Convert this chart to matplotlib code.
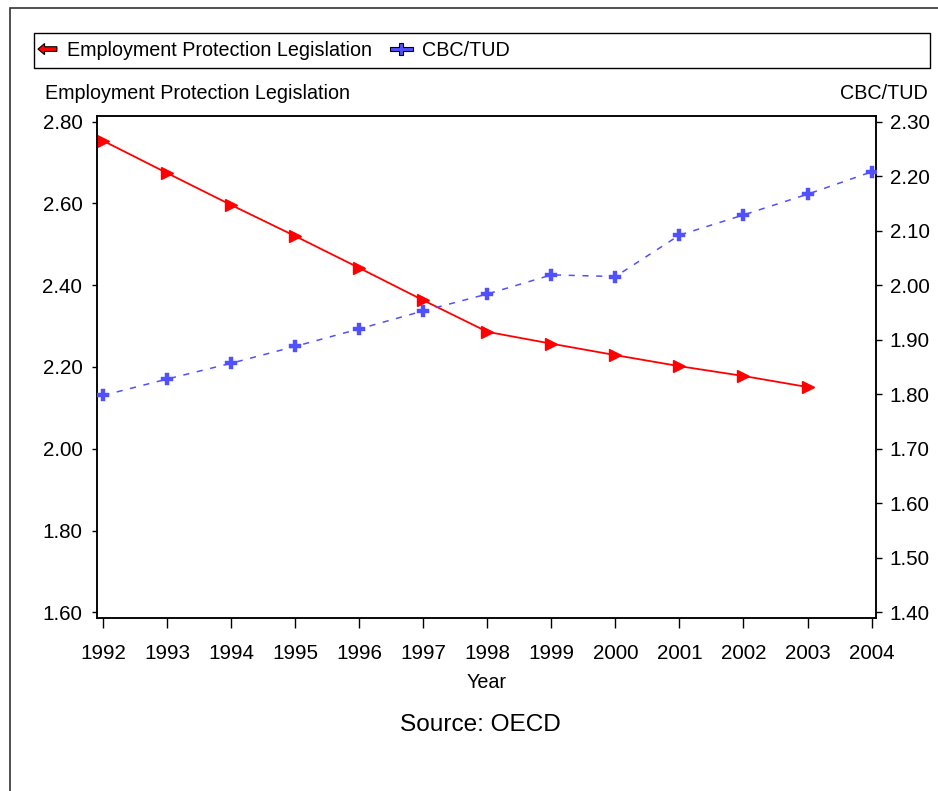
import matplotlib
matplotlib.use('Agg')
import matplotlib.pyplot as plt
from matplotlib import font_manager
from matplotlib.legend_handler import HandlerBase
from matplotlib.patches import Polygon, Rectangle

# ---- data ----
years = [1992, 1993, 1994, 1995, 1996, 1997, 1998, 1999, 2000, 2001, 2002, 2003, 2004]
epl_years = [1992, 1993, 1994, 1995, 1996, 1997, 1998, 1999, 2000, 2001, 2002, 2003]
epl = [2.753, 2.674, 2.596, 2.520, 2.442, 2.363, 2.286, 2.257, 2.229, 2.202, 2.178, 2.151]
cbc = [1.798, 1.828, 1.857, 1.888, 1.920, 1.953, 1.984, 2.019, 2.016, 2.092, 2.129, 2.167, 2.208]
left_ticks = [1.60, 1.80, 2.00, 2.20, 2.40, 2.60, 2.80]
right_ticks = [1.40, 1.50, 1.60, 1.70, 1.80, 1.90, 2.00, 2.10, 2.20, 2.30]
epl_name = "Employment Protection Legislation"
cbc_name = "CBC/TUD"

# ---- fonts ----
try:
    font_manager.findfont(font_manager.FontProperties(family='Liberation Sans Narrow'),
                          fallback_to_default=False)
    fam = ['Liberation Sans Narrow', 'DejaVu Sans']
    k = 1.0
except Exception:
    fam = ['Liberation Sans', 'DejaVu Sans']
    k = 0.836
plt.rcParams['font.family'] = fam

RED = '#ff0000'
BLUE = '#5050ff'

W, H = 938, 791
fig = plt.figure(figsize=(W / 100, H / 100), dpi=100)
fig.patch.set_facecolor('white')

ax = fig.add_axes([97 / W, 1 - 618 / H, 779 / W, 502 / H])
ax2 = ax.twinx()

l1, = ax.plot(epl_years, epl, color=RED, lw=1.3, marker='>', markersize=8,
              markerfacecolor=RED, markeredgecolor=RED, label=epl_name, zorder=3)
l2, = ax2.plot(years, cbc, color=BLUE, lw=1.1, linestyle=(0, (4, 5)), marker='P',
               markersize=8, markerfacecolor=BLUE, markeredgecolor=BLUE,
               markeredgewidth=0.3, label=cbc_name, zorder=3)

ax.set_xlim(1991.9, 2004.07)
ax.set_ylim(1.586, 2.814)
ax2.set_ylim(1.40 + (1.586 - 1.60) * 0.75, 1.40 + (2.814 - 1.60) * 0.75)

ax.set_xticks(years)
ax.set_xticklabels([str(y) for y in years])
ax.set_yticks(left_ticks)
ax.set_yticklabels(['%.2f' % v for v in left_ticks])
ax2.set_yticks(right_ticks)
ax2.set_yticklabels(['%.2f' % v for v in right_ticks])

fs_tick = 17.8 * k
ax.tick_params(axis='x', direction='out', length=7, width=1, pad=11.5, labelsize=fs_tick)
ax.tick_params(axis='y', direction='out', length=3.6, width=1, pad=7, labelsize=fs_tick)
ax2.tick_params(axis='y', direction='out', length=4.3, width=1, pad=5.5, labelsize=fs_tick)
for a in (ax, ax2):
    for s in a.spines.values():
        s.set_linewidth(1.1)
        s.set_color('black')

fs_lab = 17 * k
fig.text(45 / W, 1 - 93.5 / H, epl_name, ha='left', va='center', fontsize=fs_lab)
fig.text(928 / W, 1 - 93.5 / H, cbc_name, ha='right', va='center', fontsize=fs_lab)
fig.text(487 / W, 1 - 682 / H, "Year", ha='center', va='center', fontsize=fs_lab)
fig.text(480 / W, 1 - 725 / H, "Source: OECD", ha='center', va='center', fontsize=21 * k)


# ---- legend with custom glyphs ----
class HandlerArrow(HandlerBase):
    def create_artists(self, legend, orig_handle, xdescent, ydescent, width, height,
                       fontsize, trans):
        x0, y0 = -xdescent, -ydescent
        ym = y0 + height / 2
        hh = height * 0.40
        bh = height * 0.17
        xh = x0 + width * 0.35
        pts = [(x0, ym), (xh, ym + hh), (xh, ym + bh), (x0 + width, ym + bh),
               (x0 + width, ym - bh), (xh, ym - bh), (xh, ym - hh)]
        p = Polygon(pts, closed=True, facecolor=orig_handle.get_color(),
                    edgecolor='black', lw=0.8, transform=trans)
        return [p]


class HandlerPlus(HandlerBase):
    def create_artists(self, legend, orig_handle, xdescent, ydescent, width, height,
                       fontsize, trans):
        x0, y0 = -xdescent, -ydescent
        xa = x0 - width * 0.15
        xb = x0 + width * 1.05
        ym = y0 + height / 2
        xm = (xa + xb) / 2
        hh = height * 0.42
        bh = height * 0.16
        vw = width * 0.11
        pts = [(xa, ym + bh), (xm - vw, ym + bh), (xm - vw, ym + hh), (xm + vw, ym + hh),
               (xm + vw, ym + bh), (xb, ym + bh), (xb, ym - bh),
               (xm + vw, ym - bh), (xm + vw, ym - hh), (xm - vw, ym - hh),
               (xm - vw, ym - bh), (xa, ym - bh)]
        p = Polygon(pts, closed=True, facecolor=orig_handle.get_color(),
                    edgecolor='black', lw=0.8, transform=trans)
        return [p]


leg = fig.legend([l1, l2], [epl_name, cbc_name], loc='center left',
                 bbox_to_anchor=(34 / W, 1 - 50.5 / H), ncol=2, frameon=False,
                 fontsize=fs_lab, handlelength=0.96, handletextpad=0.5,
                 columnspacing=1.07, borderaxespad=0, borderpad=0.2,
                 handler_map={l1: HandlerArrow(), l2: HandlerPlus()})

fig.add_artist(Rectangle((34 / W, 1 - 68 / H), (930 - 34) / W, 35 / H,
                         transform=fig.transFigure, fill=False, edgecolor='black',
                         lw=1.0))
# outer frame
fig.add_artist(Rectangle((10 / W, -0.1), 1.2, 1 - 8 / H + 0.1,
                         transform=fig.transFigure, fill=False, edgecolor='#333333',
                         lw=1.2))

fig.savefig('out.png', dpi=100)
